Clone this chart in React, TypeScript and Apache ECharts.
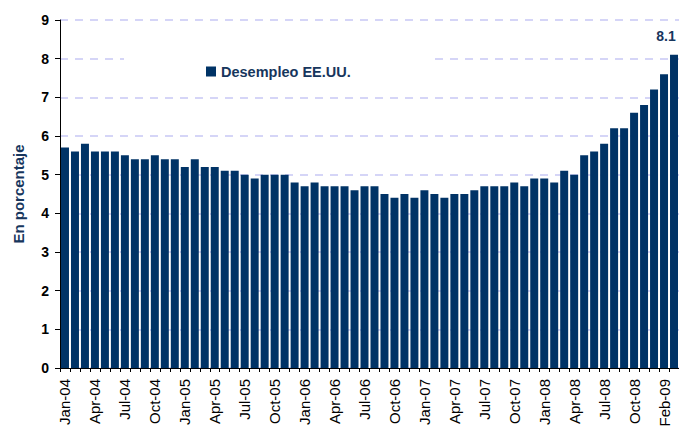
import React, { useEffect, useRef } from "react";
import * as echarts from "echarts";

const categories: string[] = [
  "Jan-04","Feb-04","Mar-04","Apr-04","May-04","Jun-04","Jul-04","Aug-04","Sep-04","Oct-04","Nov-04","Dec-04",
  "Jan-05","Feb-05","Mar-05","Apr-05","May-05","Jun-05","Jul-05","Aug-05","Sep-05","Oct-05","Nov-05","Dec-05",
  "Jan-06","Feb-06","Mar-06","Apr-06","May-06","Jun-06","Jul-06","Aug-06","Sep-06","Oct-06","Nov-06","Dec-06",
  "Jan-07","Feb-07","Mar-07","Apr-07","May-07","Jun-07","Jul-07","Aug-07","Sep-07","Oct-07","Nov-07","Dec-07",
  "Jan-08","Feb-08","Mar-08","Apr-08","May-08","Jun-08","Jul-08","Aug-08","Sep-08","Oct-08","Nov-08","Dec-08",
  "Jan-09","Feb-09",
];

const unemployment: number[] = [
  5.7, 5.6, 5.8, 5.6, 5.6, 5.6, 5.5, 5.4, 5.4, 5.5, 5.4, 5.4,
  5.2, 5.4, 5.2, 5.2, 5.1, 5.1, 5.0, 4.9, 5.0, 5.0, 5.0, 4.8,
  4.7, 4.8, 4.7, 4.7, 4.7, 4.6, 4.7, 4.7, 4.5, 4.4, 4.5, 4.4,
  4.6, 4.5, 4.4, 4.5, 4.5, 4.6, 4.7, 4.7, 4.7, 4.8, 4.7, 4.9,
  4.9, 4.8, 5.1, 5.0, 5.5, 5.6, 5.8, 6.2, 6.2, 6.6, 6.8, 7.2,
  7.6, 8.1,
];

const tickLabels: string[] = [
  "Jan-04","Apr-04","Jul-04","Oct-04",
  "Jan-05","Apr-05","Jul-05","Oct-05",
  "Jan-06","Apr-06","Jul-06","Oct-06",
  "Jan-07","Apr-07","Jul-07","Oct-07",
  "Jan-08","Apr-08","Jul-08","Oct-08",
  "Feb-09",
];

const seriesName = "Desempleo EE.UU.";
const yAxisName = "En porcentaje";

const FONT = "'Liberation Sans', Arial, sans-serif";
const BAR = "#003366";
const NAVY = "#17365D";

export default function App() {
  const ref = useRef<HTMLDivElement>(null);

  useEffect(() => {
    if (!ref.current) return;
    const chart = echarts.init(ref.current, undefined, { renderer: "svg" });
    const lastIdx = unemployment.length - 1;
    chart.setOption({
      animation: false,
      backgroundColor: "#ffffff",
      textStyle: { fontFamily: FONT },
      grid: { left: 60, right: 0, top: 20, bottom: 59, containLabel: false, outerBoundsMode: "none" },
      legend: {
        show: true,
        left: 124,
        top: 52,
        padding: [12, 80, 12, 82],
        backgroundColor: "#ffffff",
        itemWidth: 10,
        itemHeight: 10,
        icon: "rect",
        data: [seriesName],
        textStyle: { color: NAVY, fontSize: 14.5, fontWeight: "bold", fontFamily: FONT },
      },
      xAxis: {
        type: "category",
        data: categories,
        boundaryGap: true,
        axisLine: { show: true, lineStyle: { color: "#000", width: 1 } },
        axisTick: { show: true, interval: 0, length: 4, lineStyle: { color: "#000" } },
        axisLabel: {
          interval: 2,
          rotate: 90,
          margin: 11,
          color: "#000",
          fontSize: 15,
          fontFamily: FONT,
          hideOverlap: false,
          formatter: (_v: string, idx: number) => tickLabels[Math.round(idx / 3)] ?? "",
        },
        splitLine: { show: false },
      },
      yAxis: {
        type: "value",
        min: 0,
        max: 9,
        interval: 1,
        name: yAxisName,
        nameLocation: "middle",
        nameRotate: 90,
        nameGap: 34,
        nameTextStyle: { color: NAVY, fontSize: 15, fontWeight: "bold", fontFamily: FONT },
        axisLine: { show: true, lineStyle: { color: "#000", width: 1 } },
        axisTick: { show: true, length: 5, lineStyle: { color: "#000" } },
        axisLabel: { color: "#000", fontSize: 14, fontWeight: "bold", margin: 11, fontFamily: FONT },
        splitLine: { show: true, lineStyle: { color: "#C8C8F5", type: [8, 7], width: 1.5 } },
      },
      series: [
        {
          name: seriesName,
          type: "bar",
          data: unemployment.map((v, i) =>
            i === lastIdx
              ? {
                  value: v,
                  label: {
                    show: true,
                    position: "top",
                    distance: 12,
                    offset: [-8, 0],
                    color: NAVY,
                    fontSize: 14,
                    fontWeight: "bold",
                    fontFamily: FONT,
                  },
                }
              : v
          ),
          itemStyle: { color: BAR },
          barCategoryGap: "20%",
        },
      ],
    });
    return () => chart.dispose();
  }, []);

  return <div ref={ref} style={{ width: 679, height: 427, position: "absolute", left: 0, top: 0 }} />;
}
